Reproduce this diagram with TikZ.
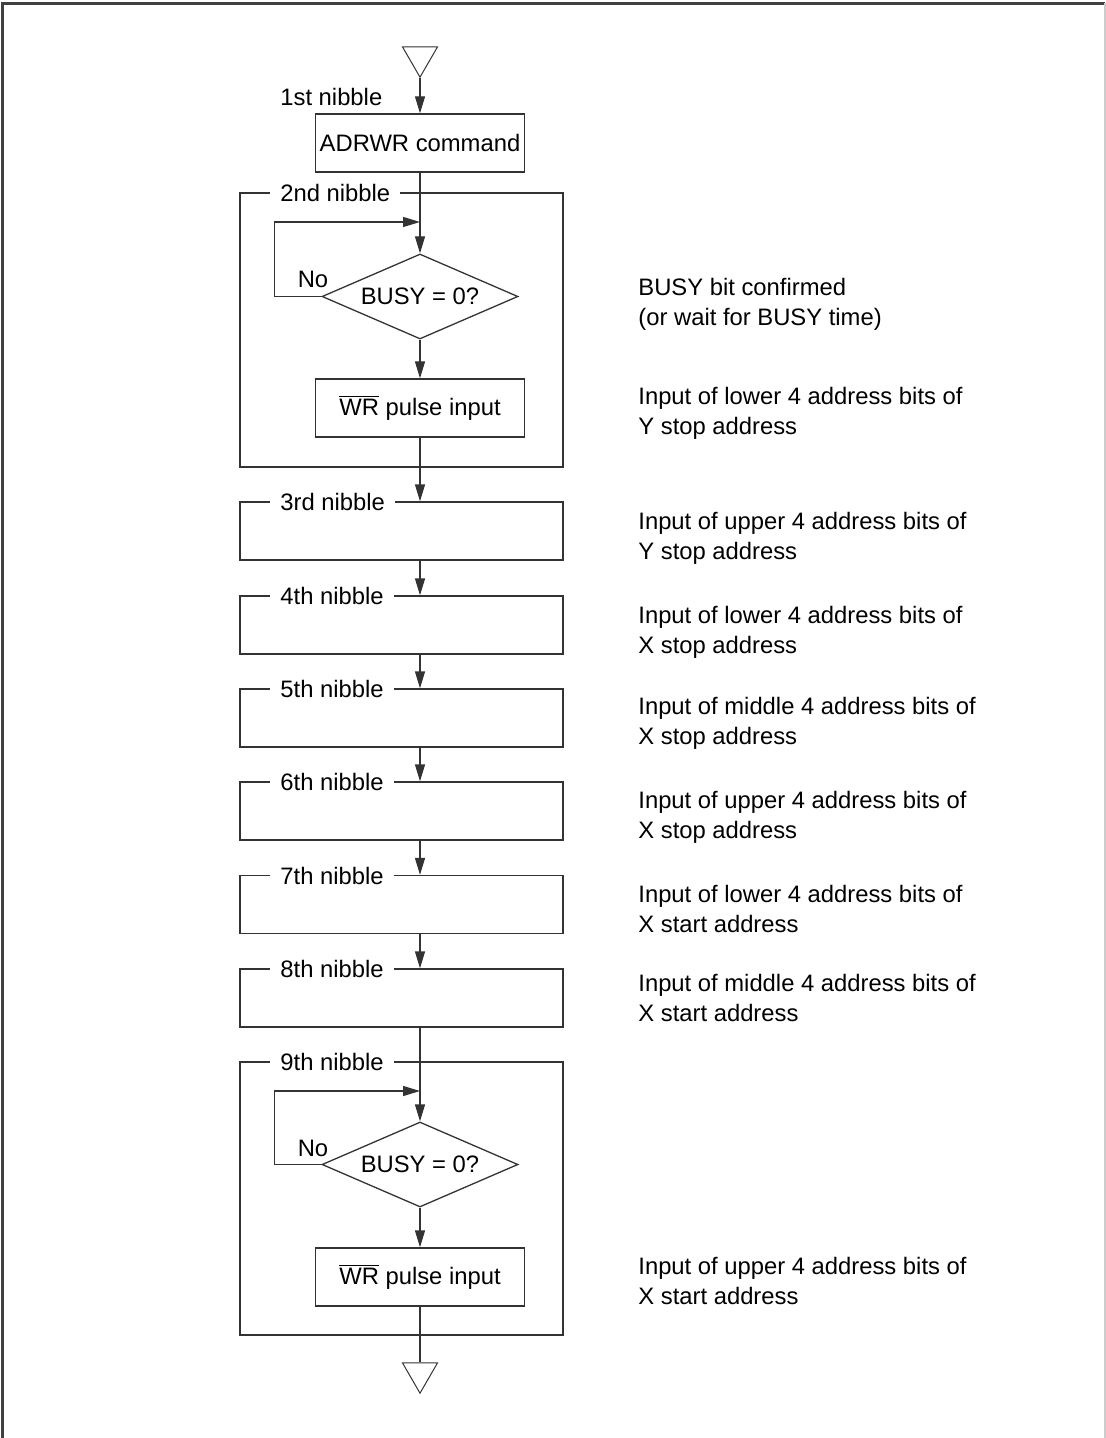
\documentclass[tikz,border=0pt]{standalone}
\usepackage{fontspec}
\setmainfont{Liberation Sans}
\usetikzlibrary{arrows.meta,shapes.geometric}

\begin{document}
\begin{tikzpicture}[
    x=0.5pt, y=-0.5pt,
    >={Triangle[length=8.5pt,width=5pt]},
    every node/.style={font=\fontsize{11.9}{15}\selectfont},
    flow/.style={draw=black!80, line width=0.65pt},
    procbox/.style={rectangle, flow, minimum width=104.5pt, minimum height=29pt, inner sep=0},
    nibblebox/.style={rectangle, flow, minimum width=161.5pt, minimum height=29pt, inner sep=0},
    groupbox/.style={rectangle, flow, minimum width=161.5pt, inner sep=0},
    testbox/.style={diamond, flow, aspect=2.3, minimum width=98pt, minimum height=42.5pt, inner sep=0},
    term/.style={regular polygon, regular polygon sides=3, shape border rotate=180,
                 draw=black!80, line width=0.5pt, minimum size=20.2pt, inner sep=0},
    nibbletag/.style={fill=white, anchor=west, inner xsep=5pt, inner ysep=1pt},
    note/.style={anchor=west, align=left, inner sep=0}
]
\useasboundingbox (0,0) rectangle (1106,1438);

% 外框
\draw[black!75, line width=1.5pt] (2,1438) -- (2,3.5) -- (1105,3.5);
\draw[black!20, line width=0.6pt] (1105,3.5) -- (1105,1438);

% 第 2、9 组外框（先画，盖在下面）
\node[groupbox, minimum height=137pt] (g2) at (401.5,330) {};
\node[groupbox, minimum height=136.5pt] (g9) at (401.5,1198.5) {};

% 起点与终点
\node[term] (top) at (420,57) {};
\node[term] (bot) at (420,1373) {};

% 第 1 组
\node[procbox] (n1) at (420,143) {ADRWR command};

% 第 2 组
\node[testbox] (d2) at (420,296.5) {BUSY = 0?};
\node[procbox] (w2) at (420,408) {$\overline{\hbox{WR}}$ pulse input};
\coordinate (l2) at (420,222);
\node (no2) at (313,279) {No};

% 第 3 到 8 组
\node[nibblebox] (b3) at (401.5,531) {};
\node[nibblebox] (b4) at (401.5,625) {};
\node[nibblebox] (b5) at (401.5,718) {};
\node[nibblebox] (b6) at (401.5,811) {};
\node[nibblebox] (b7) at (401.5,904.5) {};
\node[nibblebox] (b8) at (401.5,998) {};

% 第 9 组
\node[testbox] (d9) at (420,1164.5) {BUSY = 0?};
\node[procbox] (w9) at (420,1277) {$\overline{\hbox{WR}}$ pulse input};
\coordinate (l9) at (420,1091);
\node (no9) at (313,1148) {No};

% 组名
\node[anchor=west, inner xsep=5pt] (t1) at (270,97) {1st nibble};
\node[nibbletag] (t2) at (270,193) {2nd nibble};
\node[nibbletag] (t3) at (270,502) {3rd nibble};
\node[nibbletag] (t4) at (270,596) {4th nibble};
\node[nibbletag] (t5) at (270,689) {5th nibble};
\node[nibbletag] (t6) at (270,782) {6th nibble};
\node[nibbletag] (t7) at (270,875.5) {7th nibble};
\node[nibbletag] (t8) at (270,969) {8th nibble};
\node[nibbletag] (t9) at (270,1062) {9th nibble};

% 主流程
\draw[flow,->] (top.corner 1) -- (n1.north);
\draw[flow,->] (n1.south) -- (d2.north);
\draw[flow,->] (d2.south) -- (w2.north);
\draw[flow,->] (w2.south) -- (w2.south |- b3.north);
\draw[flow,->] (w2.south |- b3.south) -- (w2.south |- b4.north);
\draw[flow,->] (w2.south |- b4.south) -- (w2.south |- b5.north);
\draw[flow,->] (w2.south |- b5.south) -- (w2.south |- b6.north);
\draw[flow,->] (w2.south |- b6.south) -- (w2.south |- b7.north);
\draw[flow,->] (w2.south |- b7.south) -- (w2.south |- b8.north);
\draw[flow,->] (w2.south |- b8.south) -- (d9.north);
\draw[flow,->] (d9.south) -- (w9.north);
\draw[flow] (w9.south) -- (bot.north);

% BUSY 循环
\draw[flow,->] (d2.west) -- ++(-47,0) |- (l2);
\draw[flow,->] (d9.west) -- ++(-47,0) |- (l9);

% 右侧说明
\node[note] (c2a) at (638,304.5) {BUSY bit confirmed\\(or wait for BUSY time)};
\node[note] (c2b) at (638,413) {Input of lower 4 address bits of\\Y stop address};
\node[note] (c3) at (638,538) {Input of upper 4 address bits of\\Y stop address};
\node[note] (c4) at (638,632) {Input of lower 4 address bits of\\X stop address};
\node[note] (c5) at (638,723) {Input of middle 4 address bits of\\X stop address};
\node[note] (c6) at (638,817) {Input of upper 4 address bits of\\X stop address};
\node[note] (c7) at (638,909) {Input of lower 4 address bits of\\X start address};
\node[note] (c8) at (638,998) {Input of middle 4 address bits of\\X start address};
\node[note] (c9) at (638,1281) {Input of upper 4 address bits of\\X start address};

\end{tikzpicture}
\end{document}
